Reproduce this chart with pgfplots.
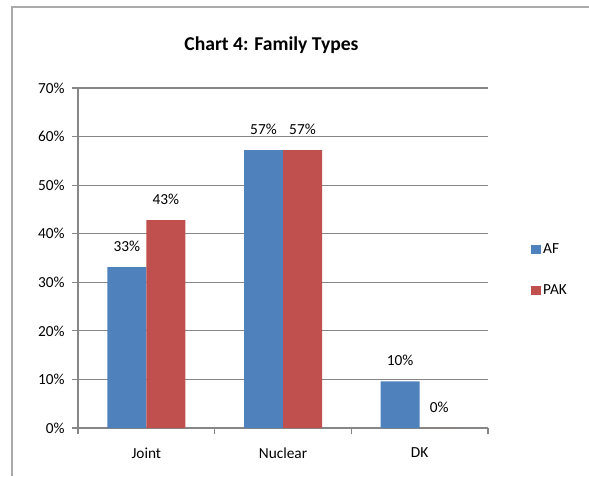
\documentclass[border=0pt]{standalone}
\usepackage{pgfplots}
\pgfplotsset{compat=1.18}
\usepackage{fontspec}
\setmainfont{Carlito}
\definecolor{afblue}{HTML}{4F81BD}
\definecolor{pakred}{HTML}{C0504D}
\definecolor{axgray}{HTML}{868686}
\begin{document}
\begin{tikzpicture}
\useasboundingbox (0pt,0pt) rectangle (441.75pt,357pt);
\draw[axgray!70, line width=1.2pt] (9pt,0pt) -- (9pt,351.75pt) -- (441.75pt,351.75pt);
\node[font=\fontsize{14.7}{16}\selectfont\bfseries] at (203.6pt,323.25pt) {Chart 4: Family Types};
\begin{axis}[
  at={(58.5pt,36pt)}, anchor=south west,
  scale only axis, width=307.5pt, height=255pt,
  ymin=0, ymax=70, ytick={0,10,...,70},
  xmin=-0.5, xmax=2.5,
  xtick={0,1,2}, xticklabels={Joint,Nuclear,DK},
  minor xtick={-0.5,0.5,1.5,2.5},
  major x tick style={draw=none},
  tick align=outside,
  minor tick length=4.5pt, major tick length=4.5pt,
  axis x line*=bottom, axis y line*=left,
  axis line style={axgray, line width=0.9pt},
  every tick/.style={axgray, line width=0.9pt},
  ymajorgrids, major grid style={axgray, line width=0.9pt},
  yticklabel={\pgfmathprintnumber{\tick}\%},
  /pgf/number format/assume math mode=true,
  tick label style={font=\fontsize{11.5}{13}\selectfont},
  yticklabel style={xshift=-2pt},
  xticklabel style={yshift=-7pt},
  ybar, bar width=29.25pt,
  enlargelimits=false, clip=false,
  nodes near coords={\pgfmathprintnumber[fixed,precision=0]{\pgfplotspointmeta}\%},
  every node near coord/.append style={font=\fontsize{11.5}{13}\selectfont, text=black, anchor=center, yshift=15.5pt},
  legend style={draw=none, at={(1.095,0.465)}, anchor=west, font=\fontsize{11.5}{13}\selectfont, row sep=18pt, legend cell align=left},
  legend image code/.code={\fill[#1] (0pt,-3.5pt) rectangle (7pt,3.5pt);},
]
\addplot[fill=afblue, draw=none, bar shift=-14.625pt] coordinates {(0,33.1) (1,57.2) (2,9.6)};
\addplot[fill=pakred, draw=none, bar shift=14.625pt] coordinates {(0,42.8) (1,57.2) (2,0)};
\legend{AF,PAK}
\end{axis}
\end{tikzpicture}
\end{document}
